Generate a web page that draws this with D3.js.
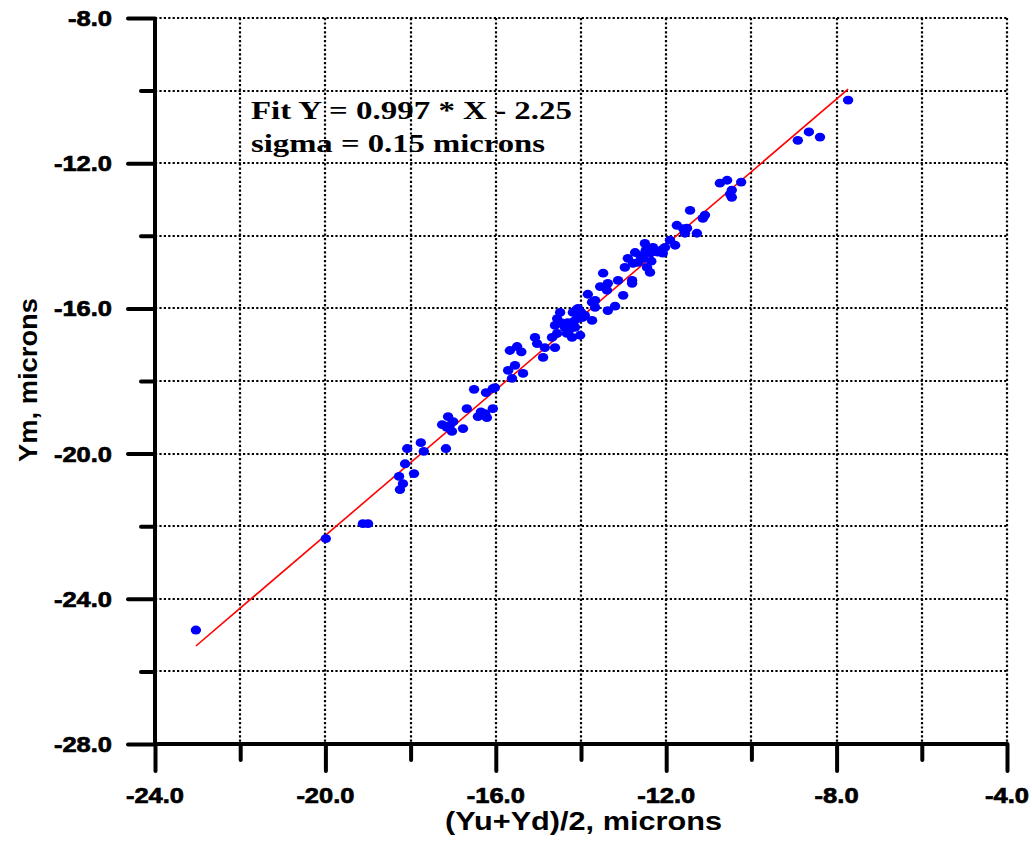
<!DOCTYPE html>
<html>
<head>
<meta charset="utf-8">
<script src="https://cdn.jsdelivr.net/npm/d3@7"></script>
<style>
  html, body { margin: 0; padding: 0; background: #fff; }
  svg { display: block; }
</style>
</head>
<body>
<svg id="chart" width="1032" height="842"></svg>
<script>
// ---- Data ----
const xMajorTicks = [-24, -20, -16, -12, -8, -4];
const xMinorTicks = [-22, -18, -14, -10, -6];
const yMajorTicks = [-8, -12, -16, -20, -24, -28];
const yMinorTicks = [-10, -14, -18, -22, -26];
const xGrid = [-22, -20, -18, -16, -14, -12, -10, -8, -6, -4];
const yGrid = [-8, -10, -12, -14, -16, -18, -20, -22, -24, -26];

const xTitle = "(Yu+Yd)/2, microns";
const yTitle = "Ym, microns";
const fitText1 = "Fit Y = 0.997 * X - 2.25";
const fitText2 = "sigma = 0.15 microns";

// fitted line endpoints [x, y]
const fitLine = [[-23.04, -25.30], [-7.73, -9.96]];

// measured points: x = (Yu+Yd)/2, y = Ym
const ptsX = [
  -23.04, -19.99, -19.12, -19.00, -7.73, -8.91, -8.65, -8.39, -10.74, -10.57,
  -10.24, -10.46, -10.46, -16.51, -16.23, -16.07, -16.68, -16.07, -16.42, -16.25,
  -16.21, -17.12, -17.00, -17.26, -17.15, -17.03, -16.77, -17.76, -18.08, -17.69,
  -17.17, -18.13, -17.92, -18.27, -18.18, -18.25, -11.44, -11.09, -11.14, -11.75,
  -11.51, -11.56, -11.28, -11.91, -11.79, -12.03, -12.50, -12.31, -12.73, -12.38,
  -12.54, -12.08, -12.66, -12.78, -12.45, -12.38, -12.97, -13.48, -12.80, -13.13,
  -13.37, -12.80, -13.39, -13.01, -13.84, -13.67, -13.74, -13.67, -13.20, -13.37,
  -14.07, -14.02, -14.19, -13.91, -14.49, -14.09, -14.56, -14.31, -13.74, -14.38,
  -14.61, -14.14, -14.56, -14.33, -14.02, -14.21, -14.68, -15.08, -15.03, -14.85,
  -14.61, -15.67, -14.89, -15.55, -15.71, -15.36, -15.62, -16.02,
  -14.12, -14.05, -14.00, -13.96, -14.16, -12.60, -12.48, -12.20, -12.90, -12.35,
  -14.45, -14.28, -15.40, -15.50, -11.60, -10.50, -16.35, -17.08, -12.10, -13.55
];
const ptsY = [
  -24.86, -22.34, -21.93, -21.93, -10.26, -11.37, -11.14, -11.28, -12.55, -12.47,
  -12.52, -12.74, -12.94, -18.23, -18.32, -18.21, -18.76, -18.76, -18.98, -18.90,
  -19.01, -18.98, -19.12, -19.20, -19.28, -19.39, -19.31, -19.70, -19.86, -19.94,
  -19.86, -20.28, -20.55, -20.63, -20.83, -20.99, -13.30, -13.43, -13.52, -13.71,
  -13.79, -13.93, -13.93, -14.12, -14.26, -14.32, -14.21, -14.32, -14.46, -14.48,
  -14.62, -14.48, -14.73, -14.76, -14.87, -15.01, -14.87, -15.03, -15.23, -15.23,
  -15.31, -15.31, -15.50, -15.64, -15.61, -15.78, -15.83, -15.97, -15.94, -16.06,
  -16.00, -16.14, -16.11, -16.19, -16.11, -16.28, -16.28, -16.39, -16.33, -16.52,
  -16.47, -16.52, -16.69, -16.69, -16.74, -16.80, -16.80, -16.80, -16.97, -17.08,
  -17.08, -17.16, -17.35, -17.57, -17.71, -17.79, -17.93, -18.18,
  -16.05, -16.20, -16.10, -16.25, -16.35, -14.55, -14.40, -14.45, -14.62, -14.70,
  -16.40, -16.60, -17.20, -17.05, -13.80, -12.85, -18.85, -19.22, -14.38, -15.40
];

// ---- Layout ----
const svg = d3.select("#chart");
const x = d3.scaleLinear().domain([-24, -4]).range([155, 1007]);
const y = d3.scaleLinear().domain([-28, -8]).range([744, 18]);
const fmt = d => d.toFixed(1);

// grid (dotted)
const grid = svg.append("g").attr("stroke", "#000").attr("stroke-width", 2.2)
  .attr("stroke-dasharray", "2.2,2.2");
grid.selectAll("line.v").data(xGrid).join("line").attr("class", "v")
  .attr("x1", d => Math.round(x(d))).attr("x2", d => Math.round(x(d)))
  .attr("y1", y(-8)).attr("y2", y(-28));
grid.selectAll("line.h").data(yGrid).join("line").attr("class", "h")
  .attr("y1", d => Math.round(y(d))).attr("y2", d => Math.round(y(d)))
  .attr("x1", x(-24)).attr("x2", x(-4));

// axes (tick marks via d3 axes, labels drawn separately)
const xAxisMajor = svg.append("g").attr("transform", `translate(0,${y(-28)})`)
  .call(d3.axisBottom(x).tickValues(xMajorTicks).tickSize(27).tickFormat(""));
const xAxisMinor = svg.append("g").attr("transform", `translate(0,${y(-28)})`)
  .call(d3.axisBottom(x).tickValues(xMinorTicks).tickSize(16).tickFormat(""));
const yAxisMajor = svg.append("g").attr("transform", `translate(${x(-24)},0)`)
  .call(d3.axisLeft(y).tickValues(yMajorTicks).tickSize(27).tickFormat(""));
const yAxisMinor = svg.append("g").attr("transform", `translate(${x(-24)},0)`)
  .call(d3.axisLeft(y).tickValues(yMinorTicks).tickSize(14).tickFormat(""));

[xAxisMajor, xAxisMinor, yAxisMajor, yAxisMinor].forEach(g => {
  g.select(".domain").remove();
  g.selectAll(".tick line").attr("stroke", "#000").attr("stroke-width", 4)
    .attr("stroke-linecap", "round");
});

const labFamily = "'Liberation Sans', Arial, sans-serif";
const labLen = s => s.length >= 5 ? 58 : 44;

svg.append("g").selectAll("text").data(xMajorTicks).join("text")
  .attr("x", d => x(d)).attr("y", 803).attr("text-anchor", "middle")
  .text(fmt)
  .attr("font-family", labFamily).attr("font-weight", "bold").attr("font-size", 22)
  .attr("fill", "#000").attr("stroke", "#000").attr("stroke-width", 0.7)
  .attr("textLength", d => labLen(fmt(d))).attr("lengthAdjust", "spacingAndGlyphs");

svg.append("g").selectAll("text").data(yMajorTicks).join("text")
  .attr("x", 112).attr("y", d => y(d) + 8).attr("text-anchor", "end")
  .text(fmt)
  .attr("font-family", labFamily).attr("font-weight", "bold").attr("font-size", 22)
  .attr("fill", "#000").attr("stroke", "#000").attr("stroke-width", 0.7)
  .attr("textLength", d => labLen(fmt(d))).attr("lengthAdjust", "spacingAndGlyphs");

// solid axis lines
svg.append("line").attr("x1", x(-24)).attr("x2", x(-24))
  .attr("y1", y(-8)).attr("y2", y(-28) + 2)
  .attr("stroke", "#000").attr("stroke-width", 4);
svg.append("line").attr("x1", x(-24) - 2).attr("x2", x(-4))
  .attr("y1", y(-28)).attr("y2", y(-28))
  .attr("stroke", "#000").attr("stroke-width", 4);

// fit line
svg.append("path").datum(fitLine)
  .attr("d", d3.line().x(d => x(d[0])).y(d => y(d[1])))
  .attr("fill", "none").attr("stroke", "#ff0000").attr("stroke-width", 1.6);

// points
svg.append("g").selectAll("ellipse").data(ptsX.map((v, i) => [v, ptsY[i]])).join("ellipse")
  .attr("cx", d => x(d[0])).attr("cy", d => y(d[1]))
  .attr("rx", 5.2).attr("ry", 4.4).attr("fill", "#0000ff");

// annotation
const annFamily = "'Liberation Serif', 'Times New Roman', serif";
svg.append("text").attr("x", 251).attr("y", 119).text(fitText1)
  .attr("font-family", annFamily).attr("font-weight", "bold").attr("font-size", 25)
  .attr("textLength", 321).attr("lengthAdjust", "spacingAndGlyphs");
svg.append("text").attr("x", 251).attr("y", 152).text(fitText2)
  .attr("font-family", annFamily).attr("font-weight", "bold").attr("font-size", 25)
  .attr("textLength", 294).attr("lengthAdjust", "spacingAndGlyphs");

// axis titles
svg.append("text").attr("x", 445).attr("y", 830).text(xTitle)
  .attr("font-family", labFamily).attr("font-weight", "bold").attr("font-size", 25)
  .attr("textLength", 277).attr("lengthAdjust", "spacingAndGlyphs");
svg.append("text").attr("transform", "translate(37,380) rotate(-90)")
  .attr("text-anchor", "middle").text(yTitle)
  .attr("font-family", labFamily).attr("font-weight", "bold").attr("font-size", 26)
  .attr("textLength", 164).attr("lengthAdjust", "spacingAndGlyphs");
</script>
</body>
</html>
